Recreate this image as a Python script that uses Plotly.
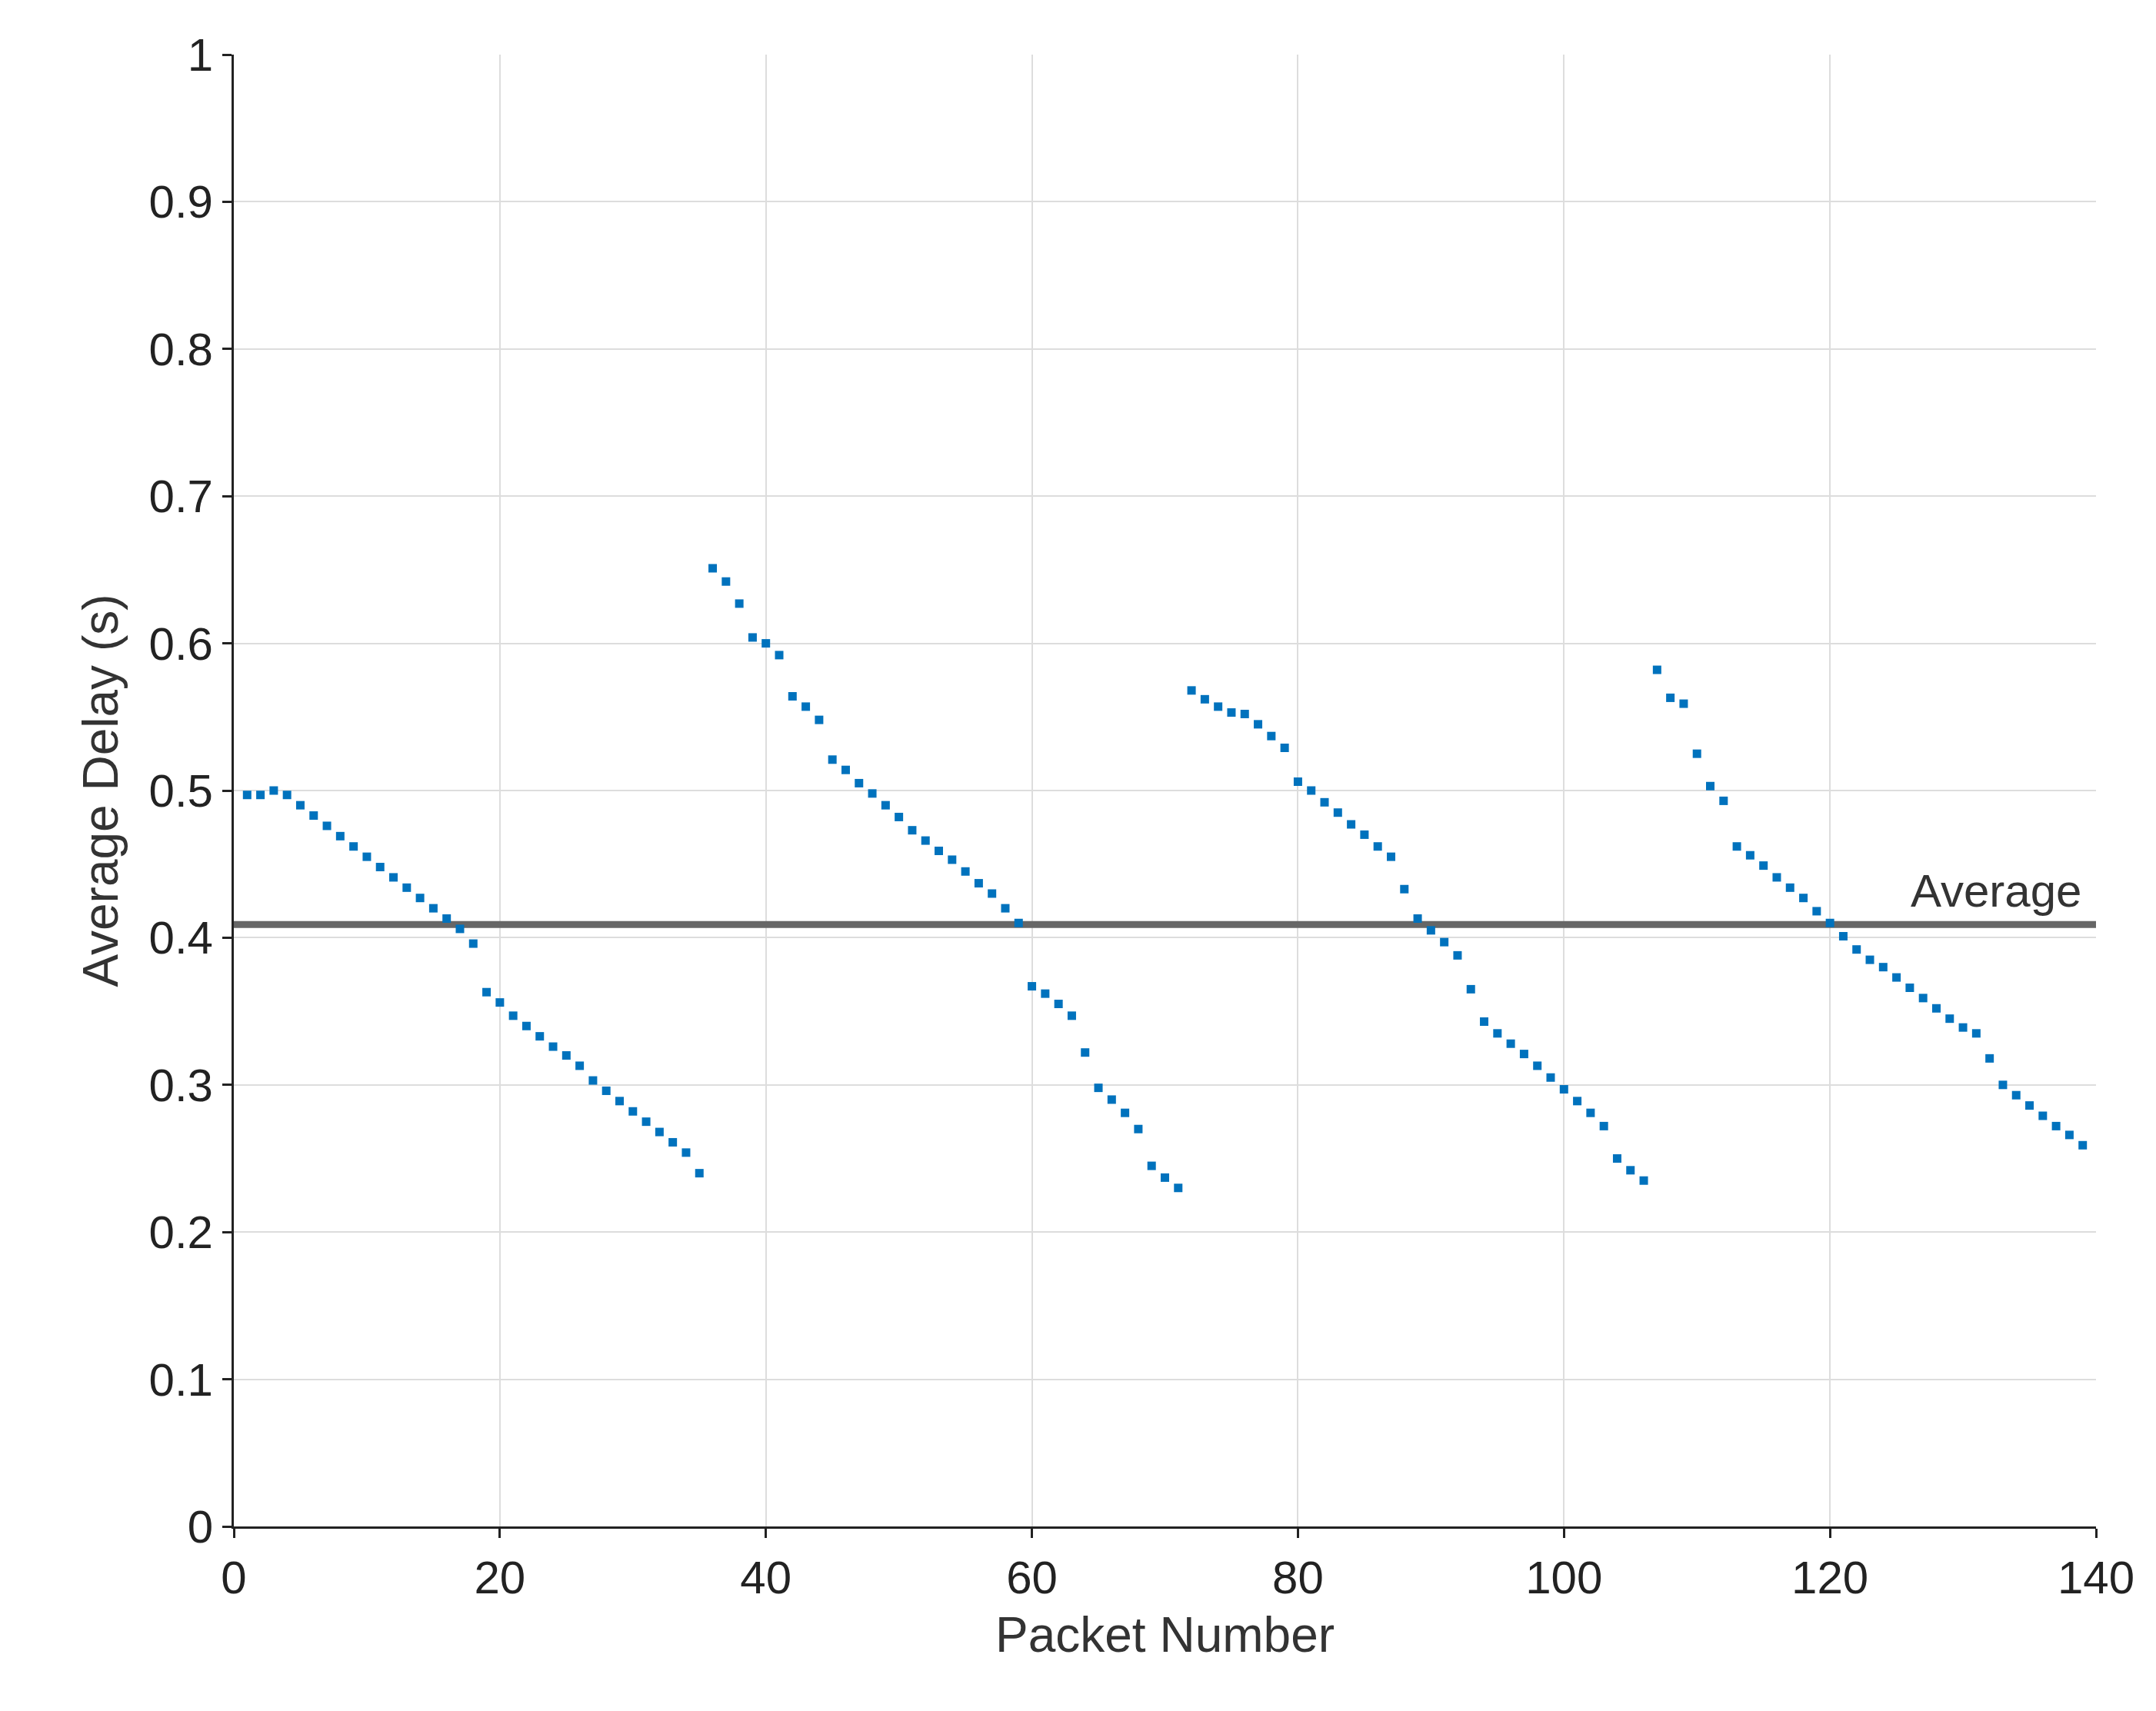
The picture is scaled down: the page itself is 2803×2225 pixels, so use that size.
import plotly.graph_objects as go

packets = list(range(1, 140))
delay = [0.497,0.497,0.5,0.497,0.49,0.483,0.476,0.469,0.462,0.455,0.448,0.441,0.434,0.427,0.42,0.413,0.406,0.396,
         0.363,0.356,0.347,0.34,0.333,0.326,0.32,0.313,0.303,0.296,0.289,0.282,0.275,0.268,0.261,0.254,0.24,
         0.651,0.642,0.627,0.604,0.6,0.592,0.564,0.557,0.548,0.521,0.514,0.505,0.498,0.49,0.482,0.473,0.466,0.459,0.453,0.445,0.437,0.43,0.42,0.41,
         0.367,0.362,0.355,0.347,0.322,0.298,0.29,0.281,0.27,0.245,0.237,0.23,
         0.568,0.562,0.557,0.553,0.552,0.545,0.537,0.529,0.506,0.5,0.492,0.485,0.477,0.47,0.462,0.455,0.433,0.413,0.405,0.397,0.388,0.365,0.343,0.335,0.328,0.321,0.313,0.305,0.297,0.289,0.281,0.272,0.25,0.242,0.235,
         0.582,0.563,0.559,0.525,0.503,0.493,0.462,0.456,0.449,0.441,0.434,0.427,0.418,0.41,0.401,0.392,0.385,0.38,0.373,0.366,0.359,0.352,0.345,0.339,0.335,0.318,0.3,0.293,0.286,0.279,0.272,0.266,0.259]
average = 0.409
x_range = [0, 140]

fig = go.Figure()
fig.add_trace(go.Scatter(x=x_range, y=[average, average], mode="lines",
                         line=dict(color="#666666", width=9), showlegend=False))
fig.add_trace(go.Scatter(x=packets, y=delay, mode="markers",
                         marker=dict(symbol="square", size=11, color="#0072BD"), showlegend=False))
fig.add_annotation(x=139, y=average, text="Average", showarrow=False, xanchor="right",
                   yanchor="bottom", yshift=8, font=dict(size=60, color="#333333"))
ax = dict(showgrid=True, gridcolor="#dddddd", gridwidth=2, showline=True, linecolor="#222222",
          linewidth=3, mirror=False, ticks="outside", ticklen=12, tickwidth=3, tickcolor="#222222",
          zeroline=False, tickfont=dict(size=60, color="#222222"))
fig.update_xaxes(range=x_range, dtick=20, title=dict(text="Packet Number", font=dict(size=64, color="#333333"), standoff=20), **ax)
fig.update_yaxes(range=[0, 1], dtick=0.1, title=dict(text="Average Delay (s)", font=dict(size=64, color="#333333"), standoff=20), **ax)
fig.update_layout(width=2803, height=2225, plot_bgcolor="white", paper_bgcolor="white",
                  font=dict(family="Liberation Sans, Arial"),
                  margin=dict(l=296, r=86, t=63, b=248))
fig.write_html("out.html")
